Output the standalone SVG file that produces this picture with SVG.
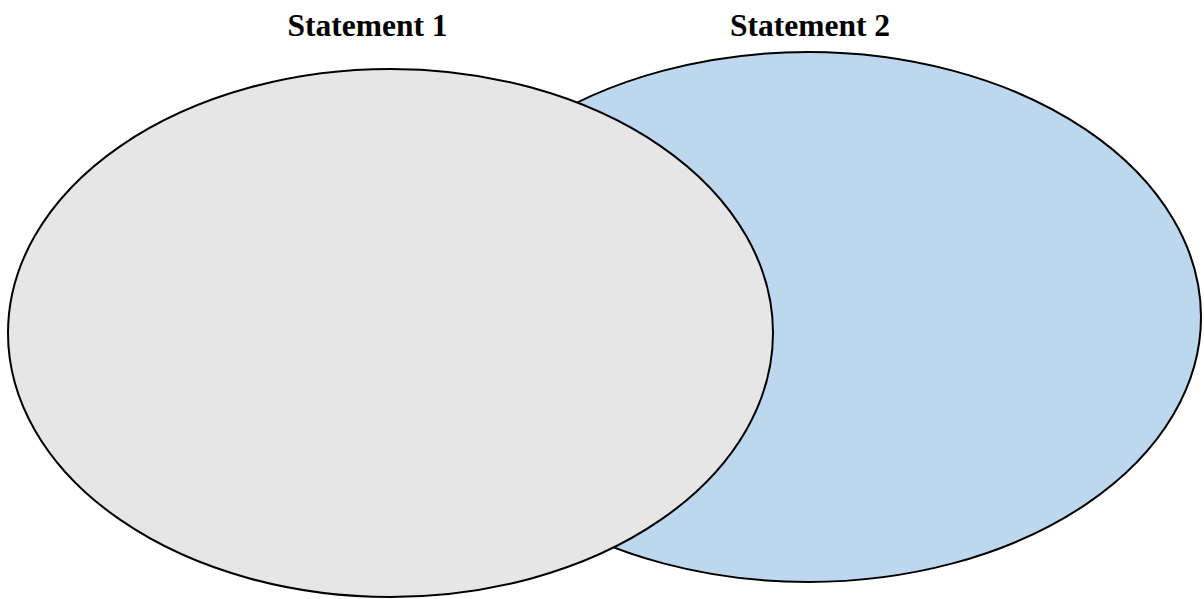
<svg xmlns="http://www.w3.org/2000/svg" width="1204" height="599" viewBox="0 0 1204 599">
<style>
.lbl{font-family:"Liberation Serif","Times New Roman",serif;font-weight:bold;font-size:31.5px;fill:#000;text-anchor:middle}
.set{stroke:#000;stroke-width:2}
</style>
<rect width="1204" height="599" fill="#fff"/>
<g id="statement2">
<ellipse class="set" cx="808" cy="317" rx="393" ry="265" fill="#BDD7EE"/>
<text class="lbl" x="810" y="36">Statement 2</text>
</g>
<g id="statement1">
<ellipse class="set" cx="390.5" cy="333" rx="382.5" ry="264" fill="#E6E6E6"/>
<text class="lbl" x="367.5" y="36">Statement 1</text>
</g>
<g id="connectors"/>
</svg>
